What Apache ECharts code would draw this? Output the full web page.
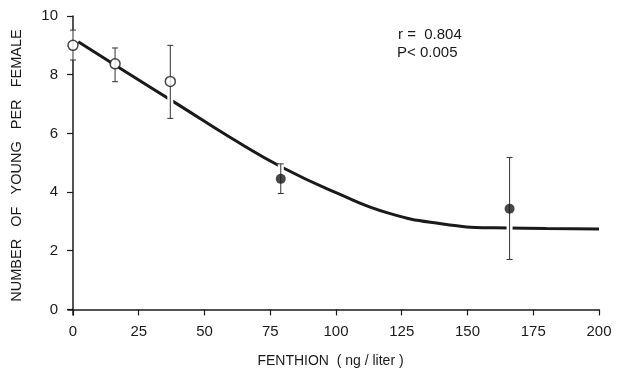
<!DOCTYPE html>
<html>
<head>
<meta charset="utf-8">
<script src="https://cdn.jsdelivr.net/npm/echarts@6/dist/echarts.min.js"></script>
<style>
  html, body { margin: 0; padding: 0; background: #fff; }
  #chart { width: 617px; height: 377px; }
</style>
</head>
<body>
<div id="chart"></div>
<script>
// values
const xTicks = [0, 25, 50, 75, 100, 125, 150, 175, 200];
const yTicks = [0, 2, 4, 6, 8, 10];

// open circles (controls / low doses)
const openX = [0, 16, 37];
const openY = [9.0, 8.37, 7.77];
const openLo = [8.5, 7.76, 6.51];
const openHi = [9.52, 8.91, 9.0];

// filled circles
const fillX = [79, 166];
const fillY = [4.45, 3.43];
const fillLo = [3.95, 1.7];
const fillHi = [4.96, 5.18];

// fitted curve
const curveX = [2, 20, 40, 60, 80, 100, 120, 140, 160, 180, 200];
const curveY = [9.12, 8.1, 6.98, 5.85, 4.82, 3.98, 3.28, 2.92, 2.78, 2.76, 2.74];

const font = 'Liberation Sans, Arial, sans-serif';
const ink = '#1a1a1a';

const errData = openX.map((x, i) => [x, openLo[i], openHi[i]])
  .concat(fillX.map((x, i) => [x, fillLo[i], fillHi[i]]));

const chart = echarts.init(document.getElementById('chart'), null, { renderer: 'canvas' });

chart.setOption({
  backgroundColor: '#fff',
  animation: false,
  grid: { left: 68, right: 18, top: 16, bottom: 62 },
  xAxis: {
    type: 'value',
    min: -1.9,
    max: 200,
    name: 'FENTHION  ( ng / liter )',
    nameLocation: 'middle',
    nameGap: 39,
    nameTextStyle: { color: ink, fontFamily: font, fontSize: 14, padding: [0, 0, 0, -6] },
    axisLine: { lineStyle: { color: ink, width: 1.5 } },
    axisTick: { customValues: xTicks, length: 6, lineStyle: { color: ink, width: 1.2 } },
    axisLabel: { customValues: xTicks, color: ink, fontFamily: font, fontSize: 15, margin: 9 },
    splitLine: { show: false }
  },
  yAxis: {
    type: 'value',
    min: -0.19,
    max: 10,
    name: 'NUMBER   OF   YOUNG   PER   FEMALE',
    nameLocation: 'middle',
    nameGap: 44,
    nameTextStyle: { color: ink, fontFamily: font, fontSize: 14.5 },
    axisLine: { show: true, lineStyle: { color: ink, width: 1.5 } },
    axisTick: { customValues: yTicks, length: 6, lineStyle: { color: ink, width: 1.2 } },
    axisLabel: { customValues: yTicks, color: ink, fontFamily: font, fontSize: 15, margin: 10 },
    splitLine: { show: false }
  },
  graphic: [
    { type: 'text', left: 398, top: 27, style: { text: 'r =  0.804', font: '15px ' + font, fill: ink } },
    { type: 'text', left: 397, top: 45, style: { text: 'P< 0.005', font: '15px ' + font, fill: ink } }
  ],
  series: [
    {
      type: 'line',
      z: 2,
      smooth: true,
      symbol: 'none',
      data: curveX.map((x, i) => [x, curveY[i]]),
      lineStyle: { color: ink, width: 3 }
    },
    {
      type: 'custom',
      z: 3,
      data: errData,
      renderItem: (params, api) => {
        const x = api.value(0);
        const top = api.coord([x, api.value(2)]);
        const bot = api.coord([x, api.value(1)]);
        const cap = 3;
        const seg = (x1, y1, x2, y2, stroke, w) => ({
          type: 'line',
          shape: { x1, y1, x2, y2 },
          style: { stroke, lineWidth: w }
        });
        return {
          type: 'group',
          children: [
            seg(top[0], top[1], bot[0], bot[1], '#fff', 6),
            seg(top[0], top[1], bot[0], bot[1], '#333', 1),
            seg(top[0] - cap, top[1], top[0] + cap, top[1], '#333', 1),
            seg(bot[0] - cap, bot[1], bot[0] + cap, bot[1], '#333', 1)
          ]
        };
      }
    },
    {
      type: 'scatter',
      z: 4,
      symbol: 'circle',
      symbolSize: 10,
      data: openX.map((x, i) => [x, openY[i]]),
      itemStyle: { color: '#fff', borderColor: ink, borderWidth: 1.5 }
    },
    {
      type: 'scatter',
      z: 4,
      symbol: 'circle',
      symbolSize: 10,
      data: fillX.map((x, i) => [x, fillY[i]]),
      itemStyle: { color: ink }
    }
  ]
});
</script>
</body>
</html>
